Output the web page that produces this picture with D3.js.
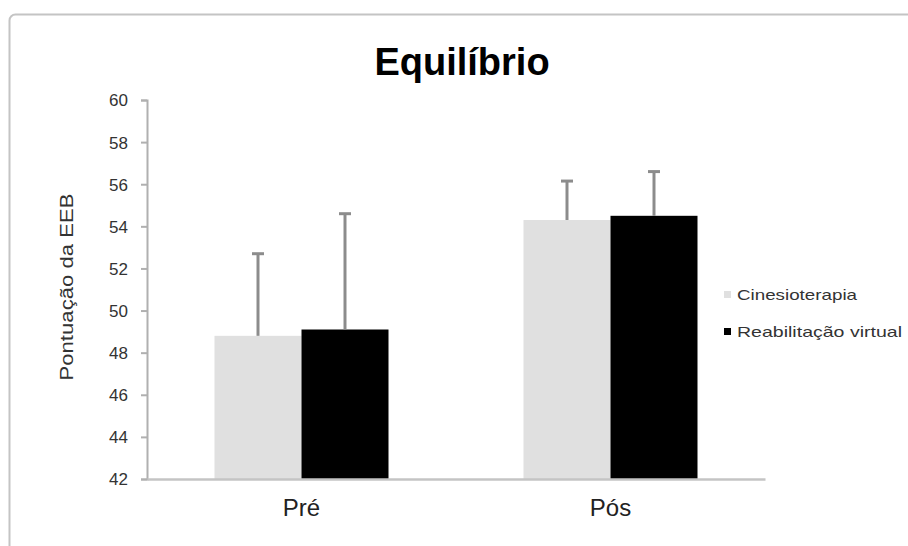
<!DOCTYPE html>
<html>
<head>
<meta charset="utf-8">
<script src="https://cdn.jsdelivr.net/npm/d3@7"></script>
<style>
  body { margin: 0; background: #fff; }
  svg { display: block; font-family: "Liberation Sans", Arial, sans-serif; }
</style>
</head>
<body>
<svg id="chart" width="908" height="546"></svg>
<script>
const title = "Equilíbrio";
const yAxisTitle = "Pontuação da EEB";
const categories = ["Pré", "Pós"];
const seriesNames = ["Cinesioterapia", "Reabilitação virtual"];
const seriesColors = ["#e0e0e0", "#000000"];
const cinesioterapia = [48.8, 54.3];
const reabilitacaoVirtual = [49.1, 54.5];
const cinesioterapiaSD = [3.9, 1.85];
const reabilitacaoVirtualSD = [5.5, 2.1];
const yTicks = [42, 44, 46, 48, 50, 52, 54, 56, 58, 60];

const values = [cinesioterapia, reabilitacaoVirtual];
const errors = [cinesioterapiaSD, reabilitacaoVirtualSD];

const svg = d3.select("#chart");

// outer border
svg.append("rect")
  .attr("x", 9.5).attr("y", 14.5)
  .attr("width", 1000).attr("height", 700)
  .attr("rx", 6)
  .attr("fill", "none")
  .attr("stroke", "#c4c4c4")
  .attr("stroke-width", 2);

const plotLeft = 147, plotRight = 765, plotTop = 100, plotBottom = 479;

const x = d3.scaleBand().domain(categories).range([plotLeft, plotRight]).paddingInner(0).paddingOuter(0);
const y = d3.scaleLinear().domain([42, 60]).range([plotBottom, plotTop]);
const barW = 87;

// bars
categories.forEach((c, ci) => {
  const cx = x(c) + x.bandwidth() / 2;
  values.forEach((vals, si) => {
    const bx = cx - barW + si * barW;
    svg.append("rect")
      .attr("x", bx)
      .attr("y", y(vals[ci]))
      .attr("width", barW)
      .attr("height", y(42) - y(vals[ci]))
      .attr("fill", seriesColors[si]);
  });
});

// error bars
categories.forEach((c, ci) => {
  const cx = x(c) + x.bandwidth() / 2;
  values.forEach((vals, si) => {
    const ex = cx - barW / 2 + si * barW;
    const y0 = y(vals[ci]);
    const y1 = y(vals[ci] + errors[si][ci]);
    svg.append("line")
      .attr("x1", ex).attr("x2", ex)
      .attr("y1", y0).attr("y2", y1)
      .attr("stroke", "#8c8c8c").attr("stroke-width", 3);
    svg.append("line")
      .attr("x1", ex - 6).attr("x2", ex + 6)
      .attr("y1", y1).attr("y2", y1)
      .attr("stroke", "#8c8c8c").attr("stroke-width", 3);
  });
});

// y axis
const yAxis = d3.axisLeft(y).tickValues(yTicks).tickSize(6).tickPadding(13).tickFormat(d3.format("d"));
const gy = svg.append("g").attr("transform", `translate(${plotLeft},0)`).call(yAxis);
gy.select(".domain").attr("stroke", "#b0b0b0").attr("stroke-width", 2);
gy.selectAll(".tick line").attr("stroke", "#b0b0b0").attr("stroke-width", 2);
gy.selectAll(".tick text")
  .attr("fill", "#333")
  .style("font-size", "17px")
  .attr("dy", "0.35em");

// x axis
const xAxis = d3.axisBottom(x).tickSize(0).tickPadding(20);
const gx = svg.append("g").attr("transform", `translate(0,${plotBottom})`).call(xAxis);
gx.select(".domain").attr("stroke", "#c4c4c4").attr("stroke-width", 2.5);
gx.selectAll(".tick text")
  .attr("fill", "#222")
  .style("font-size", "24px");

// title
svg.append("text")
  .attr("x", 462).attr("y", 75)
  .attr("text-anchor", "middle")
  .attr("font-weight", "bold")
  .style("font-size", "38px")
  .attr("fill", "#000")
  .text(title);

// y axis title
svg.append("text")
  .attr("transform", "translate(73,287) rotate(-90)")
  .attr("text-anchor", "middle")
  .style("font-size", "19px")
  .attr("fill", "#333")
  .attr("textLength", 187)
  .attr("lengthAdjust", "spacingAndGlyphs")
  .text(yAxisTitle);

// legend
const legendY = [295, 332];
const legendW = [120, 165];
seriesNames.forEach((n, i) => {
  svg.append("rect")
    .attr("x", 724).attr("y", legendY[i] - 4)
    .attr("width", 7).attr("height", 7)
    .attr("fill", seriesColors[i]);
  svg.append("text")
    .attr("x", 737).attr("y", legendY[i] + 5)
    .style("font-size", "15px")
    .attr("fill", "#333")
    .attr("textLength", legendW[i])
    .attr("lengthAdjust", "spacingAndGlyphs")
    .text(n);
});
</script>
</body>
</html>
